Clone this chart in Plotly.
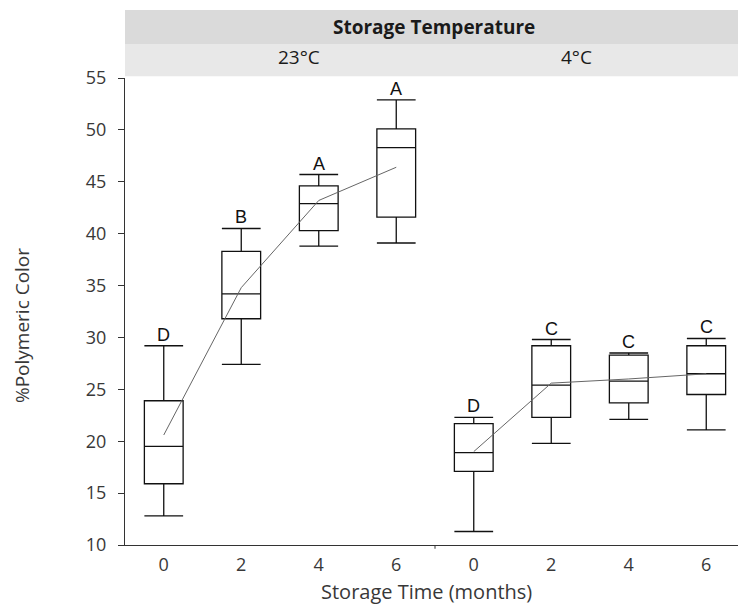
import plotly.graph_objects as go
from plotly.subplots import make_subplots

times = [0, 2, 4, 6]
temps = ["23°C", "4°C"]

# 23°C
upper_23 = [29.2, 40.5, 45.7, 52.9]
q3_23 = [23.9, 38.3, 44.6, 50.1]
median_23 = [19.5, 34.2, 42.9, 48.3]
q1_23 = [15.9, 31.8, 40.3, 41.6]
lower_23 = [12.8, 27.4, 38.8, 39.1]
mean_23 = [20.6, 34.8, 43.2, 46.4]
letters_23 = ["D", "B", "A", "A"]

# 4°C
upper_4 = [22.3, 29.8, 28.5, 29.9]
q3_4 = [21.7, 29.2, 28.3, 29.2]
median_4 = [18.9, 25.4, 25.8, 26.5]
q1_4 = [17.1, 22.3, 23.7, 24.5]
lower_4 = [11.3, 19.8, 22.1, 21.1]
mean_4 = [19.0, 25.6, 26.0, 26.5]
letters_4 = ["D", "C", "C", "C"]

yticks = [10, 15, 20, 25, 30, 35, 40, 45, 50, 55]

fig = make_subplots(rows=1, cols=2, shared_yaxes=True, horizontal_spacing=0)

panels = [
    (upper_23, q3_23, median_23, q1_23, lower_23, mean_23, letters_23),
    (upper_4, q3_4, median_4, q1_4, lower_4, mean_4, letters_4),
]

for i, (up, q3, med, q1, lo, mn, let) in enumerate(panels):
    col = i + 1
    fig.add_trace(go.Box(
        x=times, q1=q1, median=med, q3=q3, lowerfence=lo, upperfence=up,
        width=1.0, whiskerwidth=1, fillcolor="rgba(255,255,255,0)",
        line=dict(color="#111111", width=1.3), showlegend=False,
        hoverinfo="skip"), row=1, col=col)
    fig.add_trace(go.Scatter(
        x=times, y=mn, mode="lines", line=dict(color="#666666", width=1),
        showlegend=False, hoverinfo="skip"), row=1, col=col)
    xref = "x" if col == 1 else "x2"
    yref = "y" if col == 1 else "y2"
    for t, u, l in zip(times, up, let):
        fig.add_annotation(x=t, y=u, xref=xref, yref=yref, text=l,
                           showarrow=False, yanchor="bottom", yshift=-1,
                           font=dict(family="Liberation Sans", size=18, color="#111111"))

tick_font = dict(family="Open Sans", size=18, color="#383838")
title_font = dict(family="Open Sans", size=20, color="#383838")
head_font = dict(family="Open Sans", size=19, color="#1a1a1a")

fig.update_xaxes(range=[-1, 7], tickvals=times, ticktext=[str(t) for t in times],
                 showline=True, linecolor="#333333", linewidth=1.2, ticks="",
                 showgrid=False, zeroline=False, tickfont=tick_font, automargin=False,
                 ticklabelstandoff=3)
fig.update_yaxes(range=[10, 55], tickvals=yticks, showgrid=False, zeroline=False,
                 tickfont=tick_font, automargin=False)
fig.update_yaxes(showline=True, linecolor="#333333", linewidth=1.2, ticks="outside",
                 ticklen=6, tickcolor="#333333", ticklabelstandoff=8, row=1, col=1)
fig.update_yaxes(showline=False, ticks="", row=1, col=2)

fig.update_layout(
    width=738, height=597,
    margin=dict(l=117, r=1, t=70, b=60),
    plot_bgcolor="white", paper_bgcolor="white",
    shapes=[
        dict(type="rect", xref="paper", yref="paper", x0=0, x1=1.003,
             y0=1.0728, y1=1.1456, fillcolor="#dadada", line=dict(width=0), layer="below"),
        dict(type="rect", xref="paper", yref="paper", x0=0, x1=1.003,
             y0=1.004, y1=1.0728, fillcolor="#e8e8e8", line=dict(width=0), layer="below"),
        dict(type="line", xref="paper", yref="paper", x0=0.5, x1=0.5,
             y0=0, y1=-0.008, line=dict(color="#333333", width=1)),
    ],
    annotations=list(fig.layout.annotations) + [
        dict(text="<b>Storage Temperature</b>", xref="paper", yref="paper",
             x=0.498, y=1.110, showarrow=False, yanchor="middle", font=head_font),
        dict(text=temps[0], xref="paper", yref="paper", x=0.2435, y=1.045,
             showarrow=False, yanchor="middle", font=head_font),
        dict(text=temps[1], xref="paper", yref="paper", x=0.756, y=1.045,
             showarrow=False, yanchor="middle", font=head_font),
        dict(text="Storage Time (months)", xref="paper", yref="paper",
             x=0.487, y=-0.1, showarrow=False, yanchor="middle", font=title_font),
        dict(text="%Polymeric Color", xref="paper", yref="paper",
             x=-0.166, y=0.469, showarrow=False, textangle=-90,
             xanchor="center", yanchor="middle", borderpad=0,
             font=dict(family="Open Sans", size=19, color="#383838")),
    ],
)

fig.write_html("out.html")
